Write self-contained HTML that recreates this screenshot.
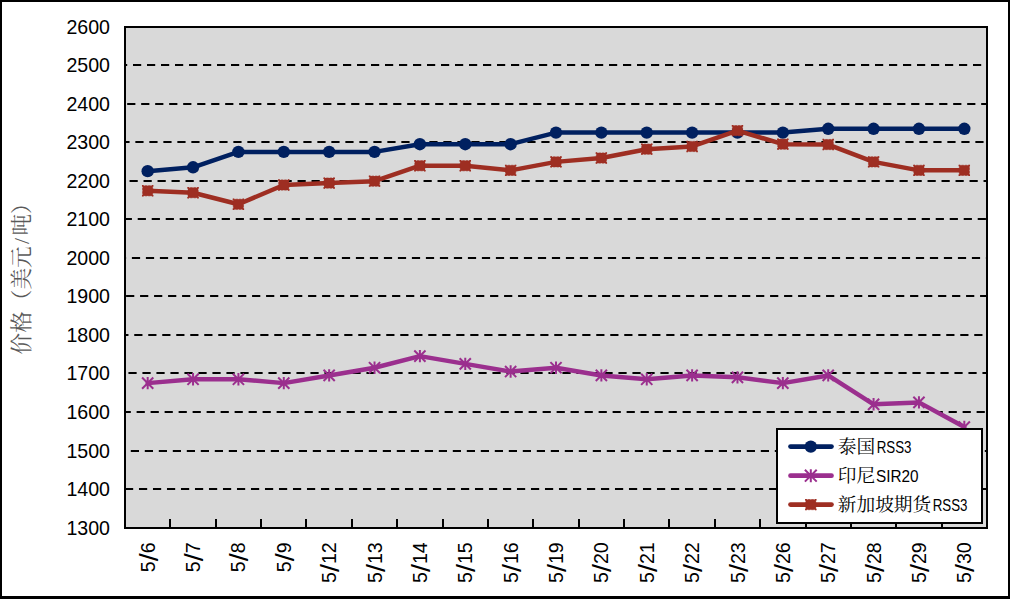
<!DOCTYPE html>
<html lang="zh"><head><meta charset="utf-8"><title>橡胶价格走势</title>
<style>html,body{margin:0;padding:0;background:#fff}body{width:1010px;height:599px;overflow:hidden}svg{display:block}text{font-family:"Liberation Sans",sans-serif;fill:#000}</style>
</head><body>
<svg width="1010" height="599" viewBox="0 0 1010 599">
<rect x="0" y="0" width="1010" height="599" fill="#fff"/>
<g fill="#000"><rect x="0" y="0" width="1010" height="2"/><rect x="0" y="0" width="2" height="599"/><rect x="1008" y="0" width="2" height="599"/><rect x="0" y="596" width="1010" height="3"/></g>
<rect x="125" y="27" width="862" height="501" fill="#d9d9d9" stroke="#000" stroke-width="2"/>
<g stroke="#000" stroke-width="2" stroke-dasharray="8.2 5.8">
<line x1="126" x2="986" y1="65" y2="65" stroke-dashoffset="7.00"/>
<line x1="126" x2="986" y1="104" y2="104" stroke-dashoffset="12.82"/>
<line x1="126" x2="986" y1="142" y2="142" stroke-dashoffset="4.64"/>
<line x1="126" x2="986" y1="181" y2="181" stroke-dashoffset="10.46"/>
<line x1="126" x2="986" y1="219" y2="219" stroke-dashoffset="2.28"/>
<line x1="126" x2="986" y1="258" y2="258" stroke-dashoffset="8.10"/>
<line x1="126" x2="986" y1="296" y2="296" stroke-dashoffset="13.92"/>
<line x1="126" x2="986" y1="335" y2="335" stroke-dashoffset="5.74"/>
<line x1="126" x2="986" y1="373" y2="373" stroke-dashoffset="11.56"/>
<line x1="126" x2="986" y1="412" y2="412" stroke-dashoffset="3.38"/>
<line x1="126" x2="986" y1="451" y2="451" stroke-dashoffset="9.20"/>
<line x1="126" x2="986" y1="489" y2="489" stroke-dashoffset="1.02"/>
</g>
<g stroke="#000" stroke-width="2">
<line x1="170" x2="170" y1="519" y2="528"/>
<line x1="216" x2="216" y1="519" y2="528"/>
<line x1="261" x2="261" y1="519" y2="528"/>
<line x1="306" x2="306" y1="519" y2="528"/>
<line x1="352" x2="352" y1="519" y2="528"/>
<line x1="397" x2="397" y1="519" y2="528"/>
<line x1="443" x2="443" y1="519" y2="528"/>
<line x1="488" x2="488" y1="519" y2="528"/>
<line x1="533" x2="533" y1="519" y2="528"/>
<line x1="579" x2="579" y1="519" y2="528"/>
<line x1="624" x2="624" y1="519" y2="528"/>
<line x1="669" x2="669" y1="519" y2="528"/>
<line x1="715" x2="715" y1="519" y2="528"/>
<line x1="760" x2="760" y1="519" y2="528"/>
<line x1="806" x2="806" y1="519" y2="528"/>
<line x1="851" x2="851" y1="519" y2="528"/>
<line x1="896" x2="896" y1="519" y2="528"/>
<line x1="942" x2="942" y1="519" y2="528"/>
</g>
<g id="s-thai">
<polyline points="147.68,171.15 193.05,167.30 238.42,151.88 283.79,151.88 329.16,151.88 374.53,151.88 419.89,144.18 465.26,144.18 510.63,144.18 556.00,132.61 601.37,132.61 646.74,132.61 692.11,132.61 737.47,132.61 782.84,132.61 828.21,128.76 873.58,128.76 918.95,128.76 964.32,128.76" fill="none" stroke="#002060" stroke-width="4.5" stroke-linejoin="round" stroke-linecap="round"/>
<circle cx="147.68" cy="171.15" r="6.2" fill="#002060"/>
<circle cx="193.05" cy="167.30" r="6.2" fill="#002060"/>
<circle cx="238.42" cy="151.88" r="6.2" fill="#002060"/>
<circle cx="283.79" cy="151.88" r="6.2" fill="#002060"/>
<circle cx="329.16" cy="151.88" r="6.2" fill="#002060"/>
<circle cx="374.53" cy="151.88" r="6.2" fill="#002060"/>
<circle cx="419.89" cy="144.18" r="6.2" fill="#002060"/>
<circle cx="465.26" cy="144.18" r="6.2" fill="#002060"/>
<circle cx="510.63" cy="144.18" r="6.2" fill="#002060"/>
<circle cx="556.00" cy="132.61" r="6.2" fill="#002060"/>
<circle cx="601.37" cy="132.61" r="6.2" fill="#002060"/>
<circle cx="646.74" cy="132.61" r="6.2" fill="#002060"/>
<circle cx="692.11" cy="132.61" r="6.2" fill="#002060"/>
<circle cx="737.47" cy="132.61" r="6.2" fill="#002060"/>
<circle cx="782.84" cy="132.61" r="6.2" fill="#002060"/>
<circle cx="828.21" cy="128.76" r="6.2" fill="#002060"/>
<circle cx="873.58" cy="128.76" r="6.2" fill="#002060"/>
<circle cx="918.95" cy="128.76" r="6.2" fill="#002060"/>
<circle cx="964.32" cy="128.76" r="6.2" fill="#002060"/>
</g>
<g id="s-indo">
<polyline points="147.68,383.12 193.05,379.27 238.42,379.27 283.79,383.12 329.16,375.42 374.53,367.71 419.89,356.15 465.26,363.85 510.63,371.56 556.00,367.71 601.37,375.42 646.74,379.27 692.11,375.42 737.47,377.34 782.84,383.12 828.21,375.42 873.58,404.32 918.95,402.39 964.32,427.06" fill="none" stroke="#9b2f8e" stroke-width="4.5" stroke-linejoin="round" stroke-linecap="round"/>
<path d="M142.08 377.52L153.28 388.73M142.08 388.73L153.28 377.52M147.68 376.92L147.68 389.33" stroke="#9b2f8e" stroke-width="2" fill="none"/>
<path d="M187.45 373.67L198.65 384.87M187.45 384.87L198.65 373.67M193.05 373.07L193.05 385.47" stroke="#9b2f8e" stroke-width="2" fill="none"/>
<path d="M232.82 373.67L244.02 384.87M232.82 384.87L244.02 373.67M238.42 373.07L238.42 385.47" stroke="#9b2f8e" stroke-width="2" fill="none"/>
<path d="M278.19 377.52L289.39 388.73M278.19 388.73L289.39 377.52M283.79 376.92L283.79 389.33" stroke="#9b2f8e" stroke-width="2" fill="none"/>
<path d="M323.56 369.82L334.76 381.02M323.56 381.02L334.76 369.82M329.16 369.22L329.16 381.62" stroke="#9b2f8e" stroke-width="2" fill="none"/>
<path d="M368.93 362.11L380.13 373.31M368.93 373.31L380.13 362.11M374.53 361.51L374.53 373.91" stroke="#9b2f8e" stroke-width="2" fill="none"/>
<path d="M414.29 350.55L425.49 361.75M414.29 361.75L425.49 350.55M419.89 349.95L419.89 362.35" stroke="#9b2f8e" stroke-width="2" fill="none"/>
<path d="M459.66 358.25L470.86 369.45M459.66 369.45L470.86 358.25M465.26 357.65L465.26 370.06" stroke="#9b2f8e" stroke-width="2" fill="none"/>
<path d="M505.03 365.96L516.23 377.16M505.03 377.16L516.23 365.96M510.63 365.36L510.63 377.76" stroke="#9b2f8e" stroke-width="2" fill="none"/>
<path d="M550.40 362.11L561.60 373.31M550.40 373.31L561.60 362.11M556.00 361.51L556.00 373.91" stroke="#9b2f8e" stroke-width="2" fill="none"/>
<path d="M595.77 369.82L606.97 381.02M595.77 381.02L606.97 369.82M601.37 369.22L601.37 381.62" stroke="#9b2f8e" stroke-width="2" fill="none"/>
<path d="M641.14 373.67L652.34 384.87M641.14 384.87L652.34 373.67M646.74 373.07L646.74 385.47" stroke="#9b2f8e" stroke-width="2" fill="none"/>
<path d="M686.51 369.82L697.71 381.02M686.51 381.02L697.71 369.82M692.11 369.22L692.11 381.62" stroke="#9b2f8e" stroke-width="2" fill="none"/>
<path d="M731.87 371.74L743.07 382.94M731.87 382.94L743.07 371.74M737.47 371.14L737.47 383.54" stroke="#9b2f8e" stroke-width="2" fill="none"/>
<path d="M777.24 377.52L788.44 388.73M777.24 388.73L788.44 377.52M782.84 376.92L782.84 389.33" stroke="#9b2f8e" stroke-width="2" fill="none"/>
<path d="M822.61 369.82L833.81 381.02M822.61 381.02L833.81 369.82M828.21 369.22L828.21 381.62" stroke="#9b2f8e" stroke-width="2" fill="none"/>
<path d="M867.98 398.72L879.18 409.92M867.98 409.92L879.18 398.72M873.58 398.12L873.58 410.52" stroke="#9b2f8e" stroke-width="2" fill="none"/>
<path d="M913.35 396.79L924.55 408.00M913.35 408.00L924.55 396.79M918.95 396.19L918.95 408.60" stroke="#9b2f8e" stroke-width="2" fill="none"/>
<path d="M958.72 421.46L969.92 432.66M958.72 432.66L969.92 421.46M964.32 420.86L964.32 433.26" stroke="#9b2f8e" stroke-width="2" fill="none"/>
</g>
<g id="s-sing">
<polyline points="147.68,190.79 193.05,192.72 238.42,204.28 283.79,185.01 329.16,183.08 374.53,181.15 419.89,165.74 465.26,165.74 510.63,170.36 556.00,161.88 601.37,158.03 646.74,149.17 692.11,146.47 737.47,130.67 782.84,144.16 828.21,144.54 873.58,161.88 918.95,170.36 964.32,170.36" fill="none" stroke="#9e2e22" stroke-width="4.5" stroke-linejoin="round" stroke-linecap="round"/>
<rect x="142.58" y="185.69" width="10.20" height="10.20" fill="#9e2e22" stroke="#9e2e22" stroke-width="0.6" stroke-dasharray="2.4 1" stroke-dashoffset="1.2"/><path d="M141.98 185.09h1.5v1.5h-1.5zM151.88 185.09h1.5v1.5h-1.5zM141.98 194.99h1.5v1.5h-1.5zM151.88 194.99h1.5v1.5h-1.5z" fill="#9e2e22"/>
<rect x="187.95" y="187.62" width="10.20" height="10.20" fill="#9e2e22" stroke="#9e2e22" stroke-width="0.6" stroke-dasharray="2.4 1" stroke-dashoffset="1.2"/><path d="M187.35 187.02h1.5v1.5h-1.5zM197.25 187.02h1.5v1.5h-1.5zM187.35 196.92h1.5v1.5h-1.5zM197.25 196.92h1.5v1.5h-1.5z" fill="#9e2e22"/>
<rect x="233.32" y="199.18" width="10.20" height="10.20" fill="#9e2e22" stroke="#9e2e22" stroke-width="0.6" stroke-dasharray="2.4 1" stroke-dashoffset="1.2"/><path d="M232.72 198.58h1.5v1.5h-1.5zM242.62 198.58h1.5v1.5h-1.5zM232.72 208.48h1.5v1.5h-1.5zM242.62 208.48h1.5v1.5h-1.5z" fill="#9e2e22"/>
<rect x="278.69" y="179.91" width="10.20" height="10.20" fill="#9e2e22" stroke="#9e2e22" stroke-width="0.6" stroke-dasharray="2.4 1" stroke-dashoffset="1.2"/><path d="M278.09 179.31h1.5v1.5h-1.5zM287.99 179.31h1.5v1.5h-1.5zM278.09 189.21h1.5v1.5h-1.5zM287.99 189.21h1.5v1.5h-1.5z" fill="#9e2e22"/>
<rect x="324.06" y="177.98" width="10.20" height="10.20" fill="#9e2e22" stroke="#9e2e22" stroke-width="0.6" stroke-dasharray="2.4 1" stroke-dashoffset="1.2"/><path d="M323.46 177.38h1.5v1.5h-1.5zM333.36 177.38h1.5v1.5h-1.5zM323.46 187.28h1.5v1.5h-1.5zM333.36 187.28h1.5v1.5h-1.5z" fill="#9e2e22"/>
<rect x="369.43" y="176.05" width="10.20" height="10.20" fill="#9e2e22" stroke="#9e2e22" stroke-width="0.6" stroke-dasharray="2.4 1" stroke-dashoffset="1.2"/><path d="M368.83 175.45h1.5v1.5h-1.5zM378.73 175.45h1.5v1.5h-1.5zM368.83 185.35h1.5v1.5h-1.5zM378.73 185.35h1.5v1.5h-1.5z" fill="#9e2e22"/>
<rect x="414.79" y="160.64" width="10.20" height="10.20" fill="#9e2e22" stroke="#9e2e22" stroke-width="0.6" stroke-dasharray="2.4 1" stroke-dashoffset="1.2"/><path d="M414.19 160.04h1.5v1.5h-1.5zM424.09 160.04h1.5v1.5h-1.5zM414.19 169.94h1.5v1.5h-1.5zM424.09 169.94h1.5v1.5h-1.5z" fill="#9e2e22"/>
<rect x="460.16" y="160.64" width="10.20" height="10.20" fill="#9e2e22" stroke="#9e2e22" stroke-width="0.6" stroke-dasharray="2.4 1" stroke-dashoffset="1.2"/><path d="M459.56 160.04h1.5v1.5h-1.5zM469.46 160.04h1.5v1.5h-1.5zM459.56 169.94h1.5v1.5h-1.5zM469.46 169.94h1.5v1.5h-1.5z" fill="#9e2e22"/>
<rect x="505.53" y="165.26" width="10.20" height="10.20" fill="#9e2e22" stroke="#9e2e22" stroke-width="0.6" stroke-dasharray="2.4 1" stroke-dashoffset="1.2"/><path d="M504.93 164.66h1.5v1.5h-1.5zM514.83 164.66h1.5v1.5h-1.5zM504.93 174.56h1.5v1.5h-1.5zM514.83 174.56h1.5v1.5h-1.5z" fill="#9e2e22"/>
<rect x="550.90" y="156.78" width="10.20" height="10.20" fill="#9e2e22" stroke="#9e2e22" stroke-width="0.6" stroke-dasharray="2.4 1" stroke-dashoffset="1.2"/><path d="M550.30 156.18h1.5v1.5h-1.5zM560.20 156.18h1.5v1.5h-1.5zM550.30 166.08h1.5v1.5h-1.5zM560.20 166.08h1.5v1.5h-1.5z" fill="#9e2e22"/>
<rect x="596.27" y="152.93" width="10.20" height="10.20" fill="#9e2e22" stroke="#9e2e22" stroke-width="0.6" stroke-dasharray="2.4 1" stroke-dashoffset="1.2"/><path d="M595.67 152.33h1.5v1.5h-1.5zM605.57 152.33h1.5v1.5h-1.5zM595.67 162.23h1.5v1.5h-1.5zM605.57 162.23h1.5v1.5h-1.5z" fill="#9e2e22"/>
<rect x="641.64" y="144.07" width="10.20" height="10.20" fill="#9e2e22" stroke="#9e2e22" stroke-width="0.6" stroke-dasharray="2.4 1" stroke-dashoffset="1.2"/><path d="M641.04 143.47h1.5v1.5h-1.5zM650.94 143.47h1.5v1.5h-1.5zM641.04 153.37h1.5v1.5h-1.5zM650.94 153.37h1.5v1.5h-1.5z" fill="#9e2e22"/>
<rect x="687.01" y="141.37" width="10.20" height="10.20" fill="#9e2e22" stroke="#9e2e22" stroke-width="0.6" stroke-dasharray="2.4 1" stroke-dashoffset="1.2"/><path d="M686.41 140.77h1.5v1.5h-1.5zM696.31 140.77h1.5v1.5h-1.5zM686.41 150.67h1.5v1.5h-1.5zM696.31 150.67h1.5v1.5h-1.5z" fill="#9e2e22"/>
<rect x="732.37" y="125.57" width="10.20" height="10.20" fill="#9e2e22" stroke="#9e2e22" stroke-width="0.6" stroke-dasharray="2.4 1" stroke-dashoffset="1.2"/><path d="M731.77 124.97h1.5v1.5h-1.5zM741.67 124.97h1.5v1.5h-1.5zM731.77 134.87h1.5v1.5h-1.5zM741.67 134.87h1.5v1.5h-1.5z" fill="#9e2e22"/>
<rect x="777.74" y="139.06" width="10.20" height="10.20" fill="#9e2e22" stroke="#9e2e22" stroke-width="0.6" stroke-dasharray="2.4 1" stroke-dashoffset="1.2"/><path d="M777.14 138.46h1.5v1.5h-1.5zM787.04 138.46h1.5v1.5h-1.5zM777.14 148.36h1.5v1.5h-1.5zM787.04 148.36h1.5v1.5h-1.5z" fill="#9e2e22"/>
<rect x="823.11" y="139.44" width="10.20" height="10.20" fill="#9e2e22" stroke="#9e2e22" stroke-width="0.6" stroke-dasharray="2.4 1" stroke-dashoffset="1.2"/><path d="M822.51 138.84h1.5v1.5h-1.5zM832.41 138.84h1.5v1.5h-1.5zM822.51 148.74h1.5v1.5h-1.5zM832.41 148.74h1.5v1.5h-1.5z" fill="#9e2e22"/>
<rect x="868.48" y="156.78" width="10.20" height="10.20" fill="#9e2e22" stroke="#9e2e22" stroke-width="0.6" stroke-dasharray="2.4 1" stroke-dashoffset="1.2"/><path d="M867.88 156.18h1.5v1.5h-1.5zM877.78 156.18h1.5v1.5h-1.5zM867.88 166.08h1.5v1.5h-1.5zM877.78 166.08h1.5v1.5h-1.5z" fill="#9e2e22"/>
<rect x="913.85" y="165.26" width="10.20" height="10.20" fill="#9e2e22" stroke="#9e2e22" stroke-width="0.6" stroke-dasharray="2.4 1" stroke-dashoffset="1.2"/><path d="M913.25 164.66h1.5v1.5h-1.5zM923.15 164.66h1.5v1.5h-1.5zM913.25 174.56h1.5v1.5h-1.5zM923.15 174.56h1.5v1.5h-1.5z" fill="#9e2e22"/>
<rect x="959.22" y="165.26" width="10.20" height="10.20" fill="#9e2e22" stroke="#9e2e22" stroke-width="0.6" stroke-dasharray="2.4 1" stroke-dashoffset="1.2"/><path d="M958.62 164.66h1.5v1.5h-1.5zM968.52 164.66h1.5v1.5h-1.5zM958.62 174.56h1.5v1.5h-1.5zM968.52 174.56h1.5v1.5h-1.5z" fill="#9e2e22"/>
</g>
<g font-size="20.8" text-anchor="end">
<text x="110" y="535.00" textLength="43.6" lengthAdjust="spacingAndGlyphs">1300</text>
<text x="110" y="496.00" textLength="43.6" lengthAdjust="spacingAndGlyphs">1400</text>
<text x="110" y="458.00" textLength="43.6" lengthAdjust="spacingAndGlyphs">1500</text>
<text x="110" y="419.00" textLength="43.6" lengthAdjust="spacingAndGlyphs">1600</text>
<text x="110" y="380.00" textLength="43.6" lengthAdjust="spacingAndGlyphs">1700</text>
<text x="110" y="342.00" textLength="43.6" lengthAdjust="spacingAndGlyphs">1800</text>
<text x="110" y="303.00" textLength="43.6" lengthAdjust="spacingAndGlyphs">1900</text>
<text x="110" y="265.00" textLength="43.6" lengthAdjust="spacingAndGlyphs">2000</text>
<text x="110" y="226.00" textLength="43.6" lengthAdjust="spacingAndGlyphs">2100</text>
<text x="110" y="188.00" textLength="43.6" lengthAdjust="spacingAndGlyphs">2200</text>
<text x="110" y="149.00" textLength="43.6" lengthAdjust="spacingAndGlyphs">2300</text>
<text x="110" y="111.00" textLength="43.6" lengthAdjust="spacingAndGlyphs">2400</text>
<text x="110" y="72.00" textLength="43.6" lengthAdjust="spacingAndGlyphs">2500</text>
<text x="110" y="34.00" textLength="43.6" lengthAdjust="spacingAndGlyphs">2600</text>
</g>
<g font-size="20.8" text-anchor="end">
<text transform="translate(155.00 542.30) rotate(-90) scale(0.9425 1)">5<tspan font-size="26.5" dx="0.00" dy="3.30" textLength="8.5" lengthAdjust="spacingAndGlyphs">/</tspan><tspan dx="0.00" dy="-3.30">6</tspan></text>
<text transform="translate(200.00 542.30) rotate(-90) scale(0.9425 1)">5<tspan font-size="26.5" dx="0.00" dy="3.30" textLength="8.5" lengthAdjust="spacingAndGlyphs">/</tspan><tspan dx="0.00" dy="-3.30">7</tspan></text>
<text transform="translate(245.00 542.30) rotate(-90) scale(0.9425 1)">5<tspan font-size="26.5" dx="0.00" dy="3.30" textLength="8.5" lengthAdjust="spacingAndGlyphs">/</tspan><tspan dx="0.00" dy="-3.30">8</tspan></text>
<text transform="translate(291.00 542.30) rotate(-90) scale(0.9425 1)">5<tspan font-size="26.5" dx="0.00" dy="3.30" textLength="8.5" lengthAdjust="spacingAndGlyphs">/</tspan><tspan dx="0.00" dy="-3.30">9</tspan></text>
<text transform="translate(336.00 542.30) rotate(-90) scale(0.9425 1)">5<tspan font-size="26.5" dx="0.00" dy="3.30" textLength="8.5" lengthAdjust="spacingAndGlyphs">/</tspan><tspan dx="0.00" dy="-3.30">12</tspan></text>
<text transform="translate(382.00 542.30) rotate(-90) scale(0.9425 1)">5<tspan font-size="26.5" dx="0.00" dy="3.30" textLength="8.5" lengthAdjust="spacingAndGlyphs">/</tspan><tspan dx="0.00" dy="-3.30">13</tspan></text>
<text transform="translate(427.00 542.30) rotate(-90) scale(0.9425 1)">5<tspan font-size="26.5" dx="0.00" dy="3.30" textLength="8.5" lengthAdjust="spacingAndGlyphs">/</tspan><tspan dx="0.00" dy="-3.30">14</tspan></text>
<text transform="translate(472.00 542.30) rotate(-90) scale(0.9425 1)">5<tspan font-size="26.5" dx="0.00" dy="3.30" textLength="8.5" lengthAdjust="spacingAndGlyphs">/</tspan><tspan dx="0.00" dy="-3.30">15</tspan></text>
<text transform="translate(518.00 542.30) rotate(-90) scale(0.9425 1)">5<tspan font-size="26.5" dx="0.00" dy="3.30" textLength="8.5" lengthAdjust="spacingAndGlyphs">/</tspan><tspan dx="0.00" dy="-3.30">16</tspan></text>
<text transform="translate(563.00 542.30) rotate(-90) scale(0.9425 1)">5<tspan font-size="26.5" dx="0.00" dy="3.30" textLength="8.5" lengthAdjust="spacingAndGlyphs">/</tspan><tspan dx="0.00" dy="-3.30">19</tspan></text>
<text transform="translate(608.00 542.30) rotate(-90) scale(0.9425 1)">5<tspan font-size="26.5" dx="0.00" dy="3.30" textLength="8.5" lengthAdjust="spacingAndGlyphs">/</tspan><tspan dx="0.00" dy="-3.30">20</tspan></text>
<text transform="translate(654.00 542.30) rotate(-90) scale(0.9425 1)">5<tspan font-size="26.5" dx="0.00" dy="3.30" textLength="8.5" lengthAdjust="spacingAndGlyphs">/</tspan><tspan dx="0.00" dy="-3.30">21</tspan></text>
<text transform="translate(699.00 542.30) rotate(-90) scale(0.9425 1)">5<tspan font-size="26.5" dx="0.00" dy="3.30" textLength="8.5" lengthAdjust="spacingAndGlyphs">/</tspan><tspan dx="0.00" dy="-3.30">22</tspan></text>
<text transform="translate(745.00 542.30) rotate(-90) scale(0.9425 1)">5<tspan font-size="26.5" dx="0.00" dy="3.30" textLength="8.5" lengthAdjust="spacingAndGlyphs">/</tspan><tspan dx="0.00" dy="-3.30">23</tspan></text>
<text transform="translate(790.00 542.30) rotate(-90) scale(0.9425 1)">5<tspan font-size="26.5" dx="0.00" dy="3.30" textLength="8.5" lengthAdjust="spacingAndGlyphs">/</tspan><tspan dx="0.00" dy="-3.30">26</tspan></text>
<text transform="translate(835.00 542.30) rotate(-90) scale(0.9425 1)">5<tspan font-size="26.5" dx="0.00" dy="3.30" textLength="8.5" lengthAdjust="spacingAndGlyphs">/</tspan><tspan dx="0.00" dy="-3.30">27</tspan></text>
<text transform="translate(881.00 542.30) rotate(-90) scale(0.9425 1)">5<tspan font-size="26.5" dx="0.00" dy="3.30" textLength="8.5" lengthAdjust="spacingAndGlyphs">/</tspan><tspan dx="0.00" dy="-3.30">28</tspan></text>
<text transform="translate(926.00 542.30) rotate(-90) scale(0.9425 1)">5<tspan font-size="26.5" dx="0.00" dy="3.30" textLength="8.5" lengthAdjust="spacingAndGlyphs">/</tspan><tspan dx="0.00" dy="-3.30">29</tspan></text>
<text transform="translate(971.00 542.30) rotate(-90) scale(0.9425 1)">5<tspan font-size="26.5" dx="0.00" dy="3.30" textLength="8.5" lengthAdjust="spacingAndGlyphs">/</tspan><tspan dx="0.00" dy="-3.30">30</tspan></text>
</g>
<rect x="777" y="429" width="205" height="94" fill="#fff" stroke="#000" stroke-width="2"/>
<line x1="790.5" x2="831.5" y1="446.60" y2="446.60" stroke="#002060" stroke-width="4.7" stroke-linecap="round"/>
<circle cx="810.80" cy="446.60" r="6.2" fill="#002060"/>
<text x="837.80" y="452.90" font-size="18.7" style="font-family:'Liberation Serif','Noto Serif CJK SC',serif">泰国</text>
<text x="876.64" y="452.60" font-size="17.2" textLength="34.8" lengthAdjust="spacingAndGlyphs">RSS3</text>
<line x1="790.5" x2="831.5" y1="475.70" y2="475.70" stroke="#9b2f8e" stroke-width="4.7" stroke-linecap="round"/>
<path d="M804.90 469.80L816.70 481.60M804.90 481.60L816.70 469.80M810.80 469.20L810.80 482.20" stroke="#9b2f8e" stroke-width="2" fill="none"/>
<text x="837.80" y="482.00" font-size="18.7" style="font-family:'Liberation Serif','Noto Serif CJK SC',serif">印尼</text>
<text x="876.04" y="481.70" font-size="17.2" textLength="42.6" lengthAdjust="spacingAndGlyphs">SIR20</text>
<line x1="790.5" x2="831.5" y1="504.60" y2="504.60" stroke="#9e2e22" stroke-width="4.7" stroke-linecap="round"/>
<rect x="805.70" y="499.50" width="10.20" height="10.20" fill="#9e2e22" stroke="#9e2e22" stroke-width="0.6" stroke-dasharray="2.4 1" stroke-dashoffset="1.2"/><path d="M805.10 498.90h1.5v1.5h-1.5zM815.00 498.90h1.5v1.5h-1.5zM805.10 508.80h1.5v1.5h-1.5zM815.00 508.80h1.5v1.5h-1.5z" fill="#9e2e22"/>
<text x="837.80" y="510.90" font-size="18.7" style="font-family:'Liberation Serif','Noto Serif CJK SC',serif">新加坡期货</text>
<text x="932.65" y="510.60" font-size="17.2" textLength="34.8" lengthAdjust="spacingAndGlyphs">RSS3</text>
<g transform="translate(28.7 354.4) rotate(-90)">
<text y="0" font-size="21.6" style="font-family:'Liberation Serif','Noto Serif CJK SC',serif;fill:#595959"><tspan x="0">价格</tspan><tspan x="43.2">（</tspan><tspan x="64.8">美元</tspan><tspan x="110.4">/</tspan><tspan x="118.8">吨</tspan><tspan x="140.4">）</tspan></text>
</g>
</svg></body></html>
